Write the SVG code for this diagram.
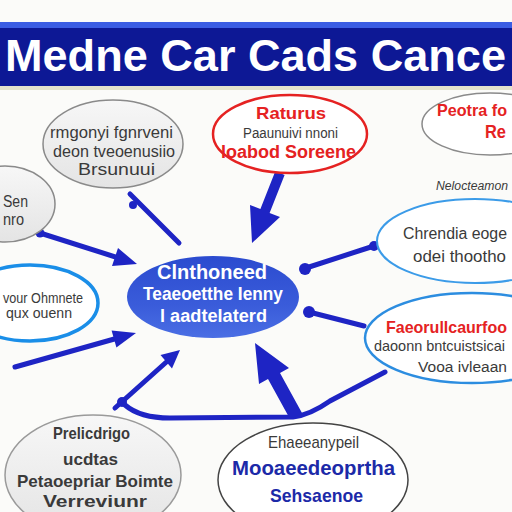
<svg xmlns="http://www.w3.org/2000/svg" width="512" height="512" viewBox="0 0 512 512">
<defs>
<style>
.t{font-family:"Liberation Sans",Arial,sans-serif;}
.g{fill:#3a3a3a;}
.r{fill:#e52222;font-weight:bold;}
.w{fill:#ffffff;font-weight:bold;}
.n{fill:#1c2aa8;font-weight:bold;}
.conn{stroke:#1e24c4;stroke-width:5;fill:none;stroke-linecap:round;}
.head{fill:#1e24c4;}
</style>
<linearGradient id="cg" x1="0" y1="0" x2="0" y2="1">
<stop offset="0" stop-color="#2b4bcf"/>
<stop offset="0.6" stop-color="#3a5cda"/>
<stop offset="1" stop-color="#4a6ee4"/>
</linearGradient>
<linearGradient id="lg" x1="0" y1="0" x2="0" y2="1">
<stop offset="0" stop-color="#f7f7f7"/>
<stop offset="1" stop-color="#e4e4e4"/>
</linearGradient>
</defs>
<rect width="512" height="512" fill="#fbfbf9"/>

<g id="title">
<rect x="0" y="22" width="512" height="66" fill="#0d1895"/>
<rect x="0" y="22" width="512" height="6" fill="#3b5de3"/>
<rect x="0" y="86" width="512" height="4" fill="#e3e2cc"/>
<text class="t" x="5" y="71" font-size="45" font-weight="bold" fill="#ffffff" textLength="501" lengthAdjust="spacingAndGlyphs">Medne Car Cads Cance</text>
</g>

<g id="connectors">
<line class="conn" x1="130" y1="194" x2="179" y2="243"/>
<circle cx="133" cy="205" r="4" class="head"/>
<polygon class="head" points="252,243 280,217 269.6,212.9 284.6,174.9 275.4,171.1 260.4,209.1 250,205"/>
<line class="conn" x1="40" y1="233" x2="125" y2="260"/>
<circle cx="40" cy="233" r="4.5" class="head"/>
<polygon class="head" points="137,264 112,266 118,248"/>
<line class="conn" x1="15" y1="367" x2="125" y2="336"/>
<polygon class="head" points="136,333 116.4,347.6 111.6,330.4"/>
<line class="conn" x1="115" y1="408" x2="172" y2="357"/>
<polygon class="head" points="180,350 172,368.5 160.5,354.9"/>
<circle cx="122" cy="402" r="5" class="head"/>
<path class="conn" stroke-width="3.5" d="M125,405 Q140,418 170,418 L293,417 Q310,415 330,401 L385,372"/>
<polygon class="head" points="255,343 289,368 280,373 302,413 290,419 268,379 259,384"/>
<line class="conn" x1="374" y1="246" x2="306" y2="268"/>
<circle cx="374" cy="246" r="5" class="head"/>
<circle cx="305" cy="269" r="6" class="head"/>
<line class="conn" x1="309" y1="312" x2="364" y2="326"/>
<circle cx="309" cy="312" r="6" class="head"/>
</g>

<g id="node-topleft">
<ellipse cx="113" cy="144" rx="70" ry="44" fill="url(#lg)" stroke="#8a8a8a" stroke-width="1.5"/>
<text class="t g" x="50" y="138" font-size="16" textLength="123" lengthAdjust="spacingAndGlyphs">rmgonyi fgnrveni</text>
<text class="t g" x="53" y="157" font-size="16" textLength="122" lengthAdjust="spacingAndGlyphs">deon tveoenusiio</text>
<text class="t g" x="78" y="175" font-size="16" textLength="77" lengthAdjust="spacingAndGlyphs">Brsunuui</text>
</g>

<g id="node-left-small">
<ellipse cx="5" cy="204" rx="50" ry="38" fill="url(#lg)" stroke="#8a8a8a" stroke-width="1.5"/>
<text class="t g" x="3" y="207" font-size="16" textLength="25" lengthAdjust="spacingAndGlyphs">Sen</text>
<text class="t g" x="3" y="225" font-size="16" textLength="21" lengthAdjust="spacingAndGlyphs">nro</text>
</g>

<g id="node-red">
<ellipse cx="290" cy="134" rx="77" ry="39" fill="#ffffff" stroke="#e52222" stroke-width="2.5"/>
<text class="t r" x="256" y="119" font-size="17" textLength="70" lengthAdjust="spacingAndGlyphs">Raturus</text>
<text class="t g" x="243" y="138" font-size="14" textLength="95" lengthAdjust="spacingAndGlyphs">Paaunuivi nnoni</text>
<text class="t r" x="221" y="158" font-size="18" textLength="135" lengthAdjust="spacingAndGlyphs">loabod Soreene</text>
</g>

<g id="node-topright">
<ellipse cx="490" cy="124" rx="68" ry="31" fill="#ffffff" stroke="#8a8a8a" stroke-width="1.5"/>
<text class="t r" x="437" y="116" font-size="16.5" textLength="70" lengthAdjust="spacingAndGlyphs">Peotra fo</text>
<text class="t r" x="485" y="138" font-size="18" textLength="21" lengthAdjust="spacingAndGlyphs">Re</text>
</g>

<g id="label-right">
<text class="t g" x="436" y="190" font-size="12.5" font-style="italic" textLength="72" lengthAdjust="spacingAndGlyphs">Nelocteamon</text>
</g>

<g id="node-right-blue">
<ellipse cx="475" cy="241" rx="98" ry="42" fill="#ffffff" stroke="#3b9be8" stroke-width="2"/>
<text class="t g" x="403" y="239" font-size="16" textLength="104" lengthAdjust="spacingAndGlyphs">Chrendia eoge</text>
<text class="t g" x="413" y="262" font-size="17" textLength="93" lengthAdjust="spacingAndGlyphs">odei thootho</text>
</g>

<g id="node-right-red">
<ellipse cx="472" cy="338" rx="107" ry="45" fill="#ffffff" stroke="#2c8de0" stroke-width="2.5"/>
<text class="t r" x="386" y="333" font-size="16.2" textLength="121" lengthAdjust="spacingAndGlyphs">Faeorullcaurfoo</text>
<text class="t g" x="374" y="351" font-size="15" textLength="131" lengthAdjust="spacingAndGlyphs">daoonn bntcuistsicai</text>
<text class="t g" x="418" y="372" font-size="15.5" textLength="89" lengthAdjust="spacingAndGlyphs">Vooa ivleaan</text>
</g>

<g id="node-left-blue">
<ellipse cx="30" cy="303" rx="68" ry="38" fill="#ffffff" stroke="#1a8ee8" stroke-width="3.5"/>
<text class="t g" x="3" y="303" font-size="15" textLength="80" lengthAdjust="spacingAndGlyphs">vour Ohmnete</text>
<text class="t g" x="6" y="318" font-size="14" textLength="66" lengthAdjust="spacingAndGlyphs">qux ouenn</text>
</g>

<g id="node-center">
<ellipse cx="213" cy="297" rx="86" ry="41" fill="url(#cg)"/>
<text class="t w" x="157" y="279" font-size="20" textLength="110" lengthAdjust="spacingAndGlyphs">Clnthoneed</text>
<text class="t w" x="143" y="300" font-size="19" textLength="140" lengthAdjust="spacingAndGlyphs">Teaeoetthe Ienny</text>
<text class="t w" x="160" y="322" font-size="18" textLength="107" lengthAdjust="spacingAndGlyphs">l aadtelaterd</text>
</g>

<g id="node-bottomleft">
<ellipse cx="93" cy="475" rx="88" ry="60" fill="url(#lg)" stroke="#9a9a9a" stroke-width="1.5"/>
<text class="t g" x="53" y="439" font-size="17" font-weight="bold" textLength="77" lengthAdjust="spacingAndGlyphs">Prelicdrigo</text>
<text class="t g" x="63" y="465" font-size="17" font-weight="bold" textLength="55" lengthAdjust="spacingAndGlyphs">ucdtas</text>
<text class="t g" x="17" y="487" font-size="17" font-weight="bold" textLength="156" lengthAdjust="spacingAndGlyphs">Petaoepriar Boimte</text>
<text class="t g" x="43" y="507" font-size="16" font-weight="bold" textLength="104" lengthAdjust="spacingAndGlyphs">Verreviunr</text>
</g>

<g id="node-bottomcenter">
<ellipse cx="313" cy="480" rx="95" ry="57" fill="#ffffff" stroke="#444444" stroke-width="1.5"/>
<text class="t g" x="268" y="448" font-size="17" textLength="91" lengthAdjust="spacingAndGlyphs">Ehaeeanypeil</text>
<text class="t n" x="232" y="475" font-size="20" textLength="163" lengthAdjust="spacingAndGlyphs">Mooaeedeoprtha</text>
<text class="t n" x="270" y="502" font-size="19" textLength="93" lengthAdjust="spacingAndGlyphs">Sehsaenoe</text>
</g>
</svg>
